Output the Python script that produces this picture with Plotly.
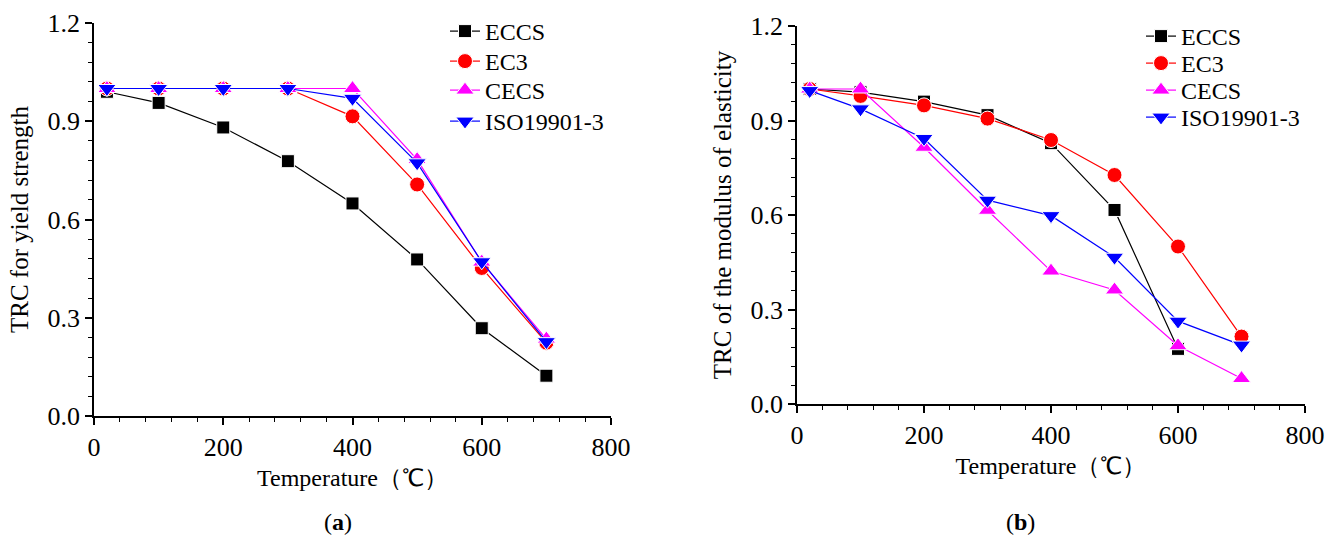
import plotly.graph_objects as go

temps = [20, 100, 200, 300, 400, 500, 600, 700]
temps_eccs_b = [20, 100, 200, 300, 400, 500, 600]

# (a) TRC for yield strength
yield_eccs = [0.99, 0.956, 0.881, 0.778, 0.649, 0.478, 0.268, 0.123]
yield_ec3 = [1.0, 1.0, 1.0, 1.0, 0.915, 0.707, 0.452, 0.224]
yield_cecs = [1.0, 1.0, 1.0, 1.0, 1.0, 0.783, 0.470, 0.235]
yield_iso = [1.0, 1.0, 1.0, 1.0, 0.970, 0.773, 0.471, 0.227]

# (b) TRC of the modulus of elasticity
mod_eccs = [1.0, 0.99, 0.96, 0.917, 0.828, 0.616, 0.175]
mod_ec3 = [1.0, 0.978, 0.948, 0.906, 0.838, 0.727, 0.500, 0.214]
mod_cecs = [1.0, 1.0, 0.815, 0.615, 0.422, 0.362, 0.185, 0.081]
mod_iso = [0.995, 0.937, 0.843, 0.647, 0.598, 0.466, 0.263, 0.187]

names = ["ECCS", "EC3", "CECS", "ISO19901-3"]
colors = ["#000000", "#ff0000", "#ff00ff", "#0000ff"]
symbols = ["square", "circle", "triangle-up", "triangle-down"]
sizes = [13, 15, 16, 16]

FONT = "Liberation Serif, Times New Roman, serif"
W, H = 1338, 540

fig = go.Figure()

left_series = [(temps, yield_eccs), (temps, yield_ec3), (temps, yield_cecs), (temps, yield_iso)]
right_series = [(temps_eccs_b, mod_eccs), (temps, mod_ec3), (temps, mod_cecs), (temps, mod_iso)]

# legend item placement (text left x, row centre y) in pixels
left_leg_x, left_leg_rows = 484, [33, 63, 92, 123]
right_leg_x, right_leg_rows = 1180, [38, 65, 92, 119]

legends = {}
k = 0
for panel, series, (lx, rows), xa, ya in [
    ("a", left_series, (left_leg_x, left_leg_rows), "x", "y"),
    ("b", right_series, (right_leg_x, right_leg_rows), "x2", "y2"),
]:
    for i, (xs, ys) in enumerate(series):
        k += 1
        lname = "legend" if k == 1 else "legend%d" % k
        fig.add_trace(go.Scatter(
            x=xs, y=ys, name=names[i], mode="lines+markers",
            line=dict(color=colors[i], width=1.2),
            marker=dict(symbol=symbols[i], size=sizes[i], color=colors[i],
                        line=dict(color="white", width=1)),
            xaxis=xa, yaxis=ya, legend=lname,
        ))
        legends[lname] = dict(
            x=(lx - 39) / W, y=(H - (rows[i] - 24)) / H,
            xanchor="left", yanchor="top",
            font=dict(family=FONT, size=24, color="black"),
            bgcolor="rgba(0,0,0,0)", borderwidth=0,
        )


def xaxis_cfg(d0, d1, anchor):
    return dict(
        domain=[d0 / W, d1 / W], anchor=anchor, range=[0, 800], automargin=False,
        tickmode="linear", tick0=0, dtick=200,
        ticks="outside", ticklen=7, tickwidth=1.5, tickcolor="black",
        minor=dict(dtick=40, ticks="outside", ticklen=4, tickwidth=1.2, tickcolor="black"),
        showline=True, linecolor="black", linewidth=1.5, mirror=False,
        showgrid=False, zeroline=False,
        tickfont=dict(family=FONT, size=26, color="black"),
        title=dict(text="Temperature（℃）", font=dict(family=FONT, size=24, color="black"), standoff=8),
    )


def yaxis_cfg(top, bottom, anchor, title, standoff):
    return dict(
        domain=[(H - bottom) / H, (H - top) / H], anchor=anchor, range=[0, 1.2], automargin=False,
        tickmode="linear", tick0=0, dtick=0.3, tickformat=".1f",
        ticks="outside", ticklen=7, tickwidth=1.5, tickcolor="black",
        minor=dict(dtick=0.06, ticks="outside", ticklen=4, tickwidth=1.2, tickcolor="black"),
        showline=True, linecolor="black", linewidth=1.5, mirror=False,
        showgrid=False, zeroline=False,
        tickfont=dict(family=FONT, size=26, color="black"),
        title=dict(text=title, font=dict(family=FONT, size=25, color="black"), standoff=standoff),
    )


fig.update_layout(
    width=W, height=H,
    margin=dict(l=0, r=0, t=0, b=0, autoexpand=False),
    paper_bgcolor="white", plot_bgcolor="white",
    xaxis=xaxis_cfg(94, 611, "y"),
    yaxis=yaxis_cfg(23, 416, "x", "TRC for yield strength", 12),
    xaxis2=xaxis_cfg(797, 1305, "y2"),
    yaxis2=yaxis_cfg(26, 404, "x2", "TRC of the modulus of elasticity", 12),
    annotations=[
        dict(text="(<b>a</b>)", x=338 / W, y=(H - 522) / H, xref="paper", yref="paper",
             xanchor="center", yanchor="middle",
             showarrow=False, font=dict(family=FONT, size=24, color="black")),
        dict(text="(<b>b</b>)", x=1020 / W, y=(H - 522) / H, xref="paper", yref="paper",
             xanchor="center", yanchor="middle",
             showarrow=False, font=dict(family=FONT, size=24, color="black")),
    ],
    showlegend=True,
    **legends,
)

fig.write_html("out.html")
